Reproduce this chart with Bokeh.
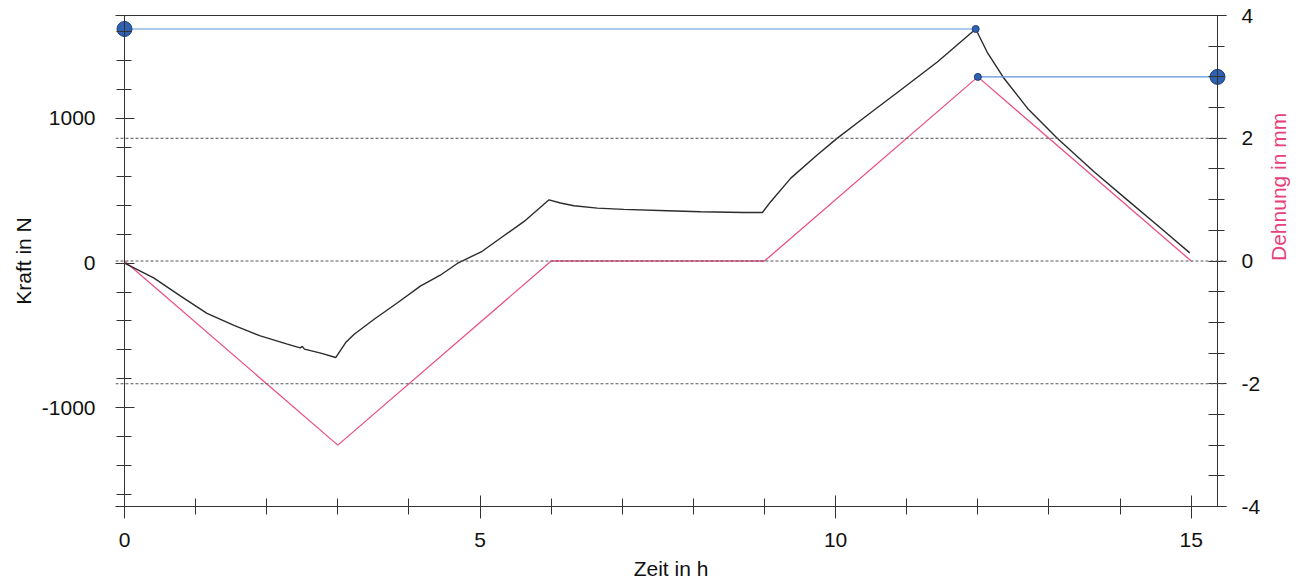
from bokeh.plotting import figure
from bokeh.models import Range1d, LinearAxis, FixedTicker, Span, PrintfTickFormatter
from bokeh.embed import file_html
from bokeh.resources import INLINE
import numpy as np
import math

# ---- data ----
time_force = [0, 0.41, 0.79, 1.16, 1.54, 1.91, 2.29, 2.47, 2.50, 2.53, 2.76, 2.97,
              3.11, 3.23, 3.51, 3.84, 4.16, 4.44, 4.68, 5.03, 5.29, 5.62, 5.97,
              6.13, 6.32, 6.65, 7.02, 7.63, 8.10, 8.71, 8.97,
              9.09, 9.37, 9.74, 10.02, 10.45, 10.91, 11.43, 11.97,
              12.13, 12.37, 12.70, 13.12, 13.63, 14.10, 14.57, 14.98]
force = [0, -102, -228, -347, -430, -503, -560, -585, -575, -594, -622, -652,
         -549, -491, -388, -274, -159, -84, -3, 81, 173, 287, 436,
         414, 395, 379, 370, 361, 354, 349, 349,
         425, 586, 746, 860, 1021, 1192, 1387, 1615,
         1456, 1273, 1067, 860, 631, 436, 242, 70]

time_strain = [0, 3, 6, 9, 12, 15]
strain = [0, -3, 0, 0, 3, 0]

x_ticks = [0, 5, 10, 15]
x_minor = list(range(0, 16))
force_ticks = [-1000, 0, 1000]
force_minor = list(range(-1600, 1601, 200))
strain_ticks = [-4, -2, 0, 2, 4]
strain_minor = [v / 2 for v in range(-8, 9)]
strain_grid = [-2, 0, 2]

X_MAX = 15.37
F_MIN, F_MAX = -1680, 1708
X_PAD = 9 * X_MAX / 1093          # small margin so end markers are not clipped
FONT = "Liberation Sans"
FS = "21px"
PINK = "#e8407a"
AX = "#333333"

p = figure(width=1305, height=582, output_backend="svg", toolbar_location=None,
           x_range=Range1d(-X_PAD, X_MAX + X_PAD), y_range=Range1d(F_MIN, F_MAX),
           min_border_left=115, min_border_right=79, min_border_top=15,
           min_border_bottom=74, x_axis_location="below", y_axis_location="left")
p.extra_y_ranges = {"d": Range1d(-4, 4)}
p.xgrid.visible = False
p.ygrid.visible = False
p.outline_line_color = None
p.background_fill_color = "white"
p.border_fill_color = "white"

def style_text(ax):
    ax.major_label_text_font = FONT
    ax.major_label_text_font_size = FS
    ax.major_label_text_color = "#111111"
    ax.axis_label_text_font = FONT
    ax.axis_label_text_font_size = FS
    ax.axis_label_text_font_style = "normal"
    ax.axis_label_text_color = "#111111"

def tick_axis(side, loc, ticks, t_out, t_in, line=True, rng="default"):
    """axis drawn at a fixed data location: line + one tick length, no text"""
    ax = LinearAxis(y_range_name=rng)
    ax.fixed_location = loc
    ax.ticker = FixedTicker(ticks=[], minor_ticks=ticks)
    ax.axis_line_color = AX if line else None
    ax.minor_tick_line_color = AX
    ax.minor_tick_out, ax.minor_tick_in = t_out, t_in
    p.add_layout(ax, side)
    return ax

def text_axis(side, ticks, standoff, label, label_standoff, rng="default"):
    """axis at the frame edge carrying only the texts"""
    ax = LinearAxis(y_range_name=rng)
    style_text(ax)
    ax.ticker = FixedTicker(ticks=ticks, minor_ticks=[])
    ax.formatter = PrintfTickFormatter(format="%d")
    ax.axis_line_color = None
    ax.major_tick_line_color = None
    ax.minor_tick_line_color = None
    ax.major_tick_out = ax.major_tick_in = 0
    ax.minor_tick_out = ax.minor_tick_in = 0
    ax.major_label_standoff = standoff
    ax.axis_label = label
    ax.axis_label_standoff = label_standoff
    p.add_layout(ax, side)
    return ax

# x axis
xa = p.xaxis[0]
style_text(xa)
xa.ticker = FixedTicker(ticks=x_ticks, minor_ticks=x_minor)
xa.axis_line_color = AX
xa.major_tick_line_color = AX
xa.minor_tick_line_color = AX
xa.major_tick_out = 12
xa.major_tick_in = 11
xa.minor_tick_out = 8
xa.minor_tick_in = 8
xa.major_label_standoff = 14
xa.axis_label = "Zeit in h"
xa.axis_label_standoff = 7

# top frame line
ta = LinearAxis(ticker=FixedTicker(ticks=[]), axis_line_color=AX,
                major_tick_out=0, major_tick_in=0, minor_tick_out=0, minor_tick_in=0)
p.add_layout(ta, "above")

# left (force) axis: ticks at t = 0, texts in an outer axis
p.yaxis[0].visible = False
tick_axis("left", 0, force_minor, 8, 7)
tick_axis("left", 0, force_ticks, 13, 10, line=False)
text_axis("left", force_ticks, 20, "Kraft in N", 4)

# right (strain) axis: ticks at the end of the time range, texts in an outer axis
tick_axis("right", X_MAX, strain_minor, 7, 9, rng="d")
tick_axis("right", X_MAX, strain_ticks, 11, 6, line=False, rng="d")
ra_txt = text_axis("right", strain_ticks, 15, "Dehnung in mm", 15, rng="d")
ra_txt.axis_label_text_color = PINK
try:
    ra_txt.axis_label_orientation = math.pi / 2
except Exception:
    pass

# dashed grid lines on strain scale
for g in strain_grid:
    p.add_layout(Span(location=g, dimension="width", y_range_name="d",
                      line_color="#555555", line_dash="3 2", line_width=1))

# strain (pink)
p.line(time_strain, strain, y_range_name="d", line_color="#ec4f86", line_width=1.3)

# force (black)
p.line(time_force, force, line_color="#2b2b2b", line_width=1.4)

# maxima markers
fi = int(np.argmax(force))
t_fmax, f_max = time_force[fi], force[fi]
si = int(np.argmax(strain))
t_smax, s_max = time_strain[si], strain[si]

p.line([0, t_fmax], [f_max, f_max], line_color="#5b95d8", line_width=1.2)
p.line([t_smax, X_MAX], [s_max, s_max], y_range_name="d", line_color="#5b95d8", line_width=1.2)

MK_FILL, MK_LINE = "#2e62b0", "#1d3d78"
p.scatter([t_fmax], [f_max], size=7, fill_color=MK_FILL, line_color=MK_LINE)
p.scatter([t_smax], [s_max], size=7, fill_color=MK_FILL, line_color=MK_LINE, y_range_name="d")
p.scatter([0], [f_max], size=15, fill_color=MK_FILL, line_color=MK_LINE)
p.scatter([X_MAX], [s_max], size=15, fill_color=MK_FILL, line_color=MK_LINE, y_range_name="d")

open("out.html", "w").write(file_html(p, INLINE))
